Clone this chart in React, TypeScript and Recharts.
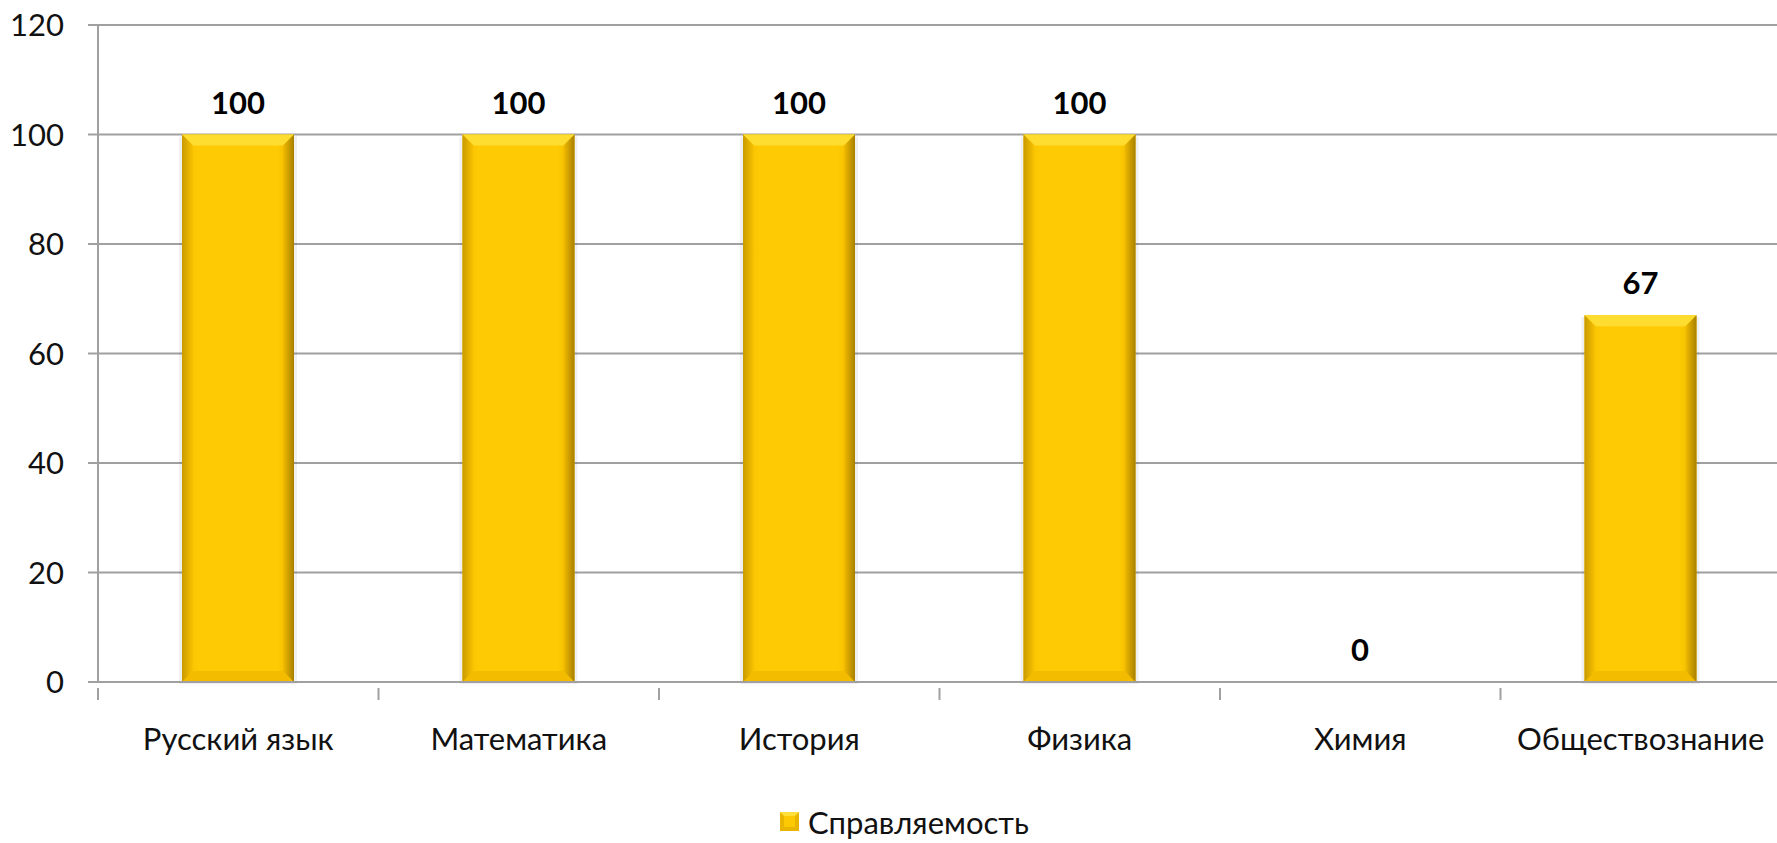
import {
  BarChart,
  Bar,
  XAxis,
  YAxis,
  Legend,
  CartesianGrid,
  LabelList,
} from "recharts";

const subjects = [
  "Русский язык",
  "Математика",
  "История",
  "Физика",
  "Химия",
  "Обществознание",
];
const completion = [100, 100, 100, 100, 0, 67];
const yTicks = [0, 20, 40, 60, 80, 100, 120];
const seriesName = "Справляемость";

const data = subjects.map((s, i) => ({ subject: s, value: completion[i] }));

const FONT = "Lato, Calibri, 'Open Sans', sans-serif";
const GRID = "#a0a0a0";
const X_TICK_MARGIN = 40;

function BevelBar(props: any) {
  const { x, y, width, height } = props;
  if (!height || height <= 0) return null;
  const b = Math.min(11, height / 2);
  return (
    <g>
      <rect x={x - 3} y={y + 2} width={width + 6} height={height} fill="#000" opacity={0.06} />
      <rect x={x} y={y} width={width} height={height} fill="url(#barBody)" />
      <polygon
        points={`${x},${y} ${x + width},${y} ${x + width - b},${y + b} ${x + b},${y + b}`}
        fill="#FFDD30"
      />
      <polygon
        points={`${x},${y + height} ${x + width},${y + height} ${x + width - b},${y + height - b} ${x + b},${y + height - b}`}
        fill="#F3BC00"
      />
      <polygon
        points={`${x},${y} ${x + b},${y + b} ${x + b},${y + height - b} ${x},${y + height}`}
        fill="url(#barLeft)"
      />
      <polygon
        points={`${x + width},${y} ${x + width - b},${y + b} ${x + width - b},${y + height - b} ${x + width},${y + height}`}
        fill="url(#barRight)"
      />
    </g>
  );
}

// category label plus Excel-style tick marks on the band boundaries
function SubjectTick(props: any) {
  const { x, y, payload, index, visibleTicksCount } = props;
  const half = payload.offset || 0;
  const axisY = y - X_TICK_MARGIN;
  return (
    <g>
      <line x1={x - half} x2={x - half} y1={axisY} y2={axisY + 12} stroke={GRID} strokeWidth={2} />
      {index === visibleTicksCount - 1 && (
        <line x1={x + half} x2={x + half} y1={axisY} y2={axisY + 12} stroke={GRID} strokeWidth={2} />
      )}
      <text
        x={x}
        y={y}
        dy="0.71em"
        textAnchor="middle"
        fontFamily={FONT}
        fontSize={31}
        fill="#111"
      >
        {payload.value}
      </text>
    </g>
  );
}

function LegendContent() {
  return (
    <div
      style={{
        height: 51,
        display: "flex",
        alignItems: "center",
        paddingLeft: 780,
        fontFamily: FONT,
        fontSize: 31,
        color: "#111",
        boxSizing: "border-box",
        paddingTop: 8,
      }}
    >
      <svg width={19} height={19} style={{ marginRight: 9 }}>
        <rect x={0} y={0} width={19} height={19} fill="#E9B500" />
        <polygon points="0,0 19,0 15,4 4,4" fill="#FFE03A" />
        <rect x={4} y={4} width={11} height={11} fill="#FDC903" />
      </svg>
      <span>{seriesName}</span>
    </div>
  );
}

export default function App() {
  return (
    <div
      style={{
        position: "absolute",
        left: 0,
        top: 0,
        width: 1777,
        height: 843,
        overflow: "hidden",
        background: "#fff",
      }}
    >
      <BarChart
        width={1790}
        height={843}
        data={data}
        margin={{ top: 25, right: 9, bottom: 0, left: 0 }}
        barSize={112}
      >
        <defs>
          <linearGradient id="barBody" x1="0" y1="0" x2="1" y2="0">
            <stop offset="0%" stopColor="#F7C000" />
            <stop offset="15%" stopColor="#FDCA04" />
            <stop offset="85%" stopColor="#FDCA04" />
            <stop offset="100%" stopColor="#EDB700" />
          </linearGradient>
          <linearGradient id="barLeft" x1="0" y1="0" x2="1" y2="0">
            <stop offset="0%" stopColor="#C99A00" />
            <stop offset="100%" stopColor="#F9C300" />
          </linearGradient>
          <linearGradient id="barRight" x1="0" y1="0" x2="1" y2="0">
            <stop offset="0%" stopColor="#F2BC00" />
            <stop offset="100%" stopColor="#A88000" />
          </linearGradient>
        </defs>
        <CartesianGrid vertical={false} stroke={GRID} strokeWidth={2} />
        <XAxis
          dataKey="subject"
          height={110}
          axisLine={{ stroke: GRID, strokeWidth: 2 }}
          tickLine={false}
          tickMargin={X_TICK_MARGIN}
          interval={0}
          tick={<SubjectTick />}
        />
        <YAxis
          domain={[0, 120]}
          ticks={yTicks}
          width={98}
          axisLine={{ stroke: GRID, strokeWidth: 2 }}
          tickSize={10}
          tickLine={{ stroke: GRID, strokeWidth: 2 }}
          tickMargin={24}
          tick={{ fontFamily: FONT, fontSize: 31, fill: "#111" }}
        />
        <Legend verticalAlign="bottom" height={51} content={<LegendContent />} />
        <Bar
          dataKey="value"
          name={seriesName}
          fill="#FDCA04"
          shape={<BevelBar />}
          isAnimationActive={false}
        >
          <LabelList
            dataKey="value"
            position="top"
            offset={21}
            style={{ fontFamily: FONT, fontSize: 31, fontWeight: 700, fill: "#000" }}
          />
        </Bar>
      </BarChart>
    </div>
  );
}
